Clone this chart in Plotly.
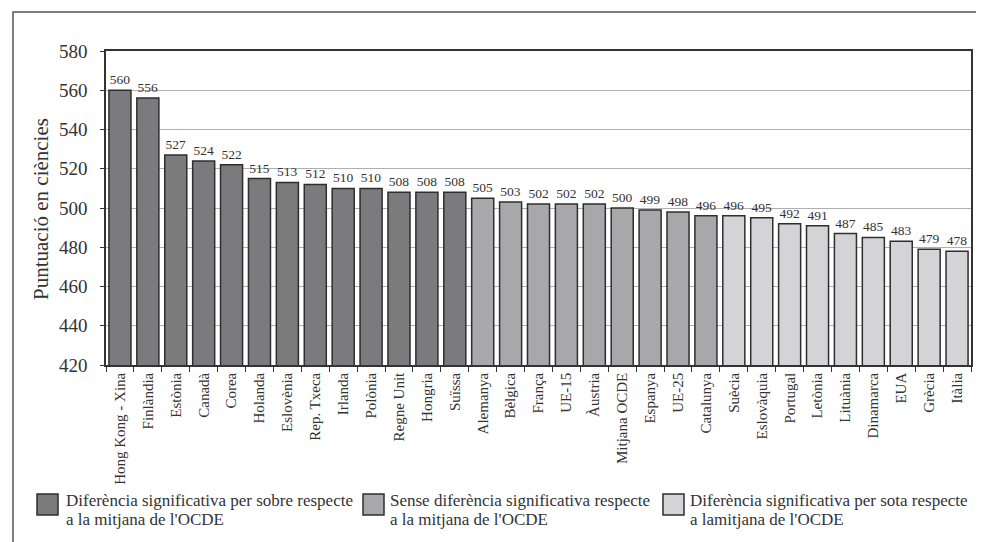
import plotly.graph_objects as go

countries_above = ["Hong Kong - Xina", "Finlàndia", "Estònia", "Canadà", "Corea", "Holanda",
                   "Eslovènia", "Rep. Txeca", "Irlanda", "Polònia", "Regne Unit", "Hongria", "Suïssa"]
scores_above = [560, 556, 527, 524, 522, 515, 513, 512, 510, 510, 508, 508, 508]

countries_same = ["Alemanya", "Bèlgica", "França", "UE-15", "Àustria", "Mitjana OCDE",
                  "Espanya", "UE-25", "Catalunya"]
scores_same = [505, 503, 502, 502, 502, 500, 499, 498, 496]

countries_below = ["Suècia", "Eslovàquia", "Portugal", "Letònia", "Lituània", "Dinamarca",
                   "EUA", "Grècia", "Itàlia"]
scores_below = [496, 495, 492, 491, 487, 485, 483, 479, 478]

legend_lines = [
    ["Diferència significativa per sobre respecte", "a la mitjana de l'OCDE"],
    ["Sense diferència significativa respecte", "a la mitjana de l'OCDE"],
    ["Diferència significativa per sota respecte", "a lamitjana de l'OCDE"],
]

FONT = "Liberation Serif"
TXT = "#333333"
colors = ["#7b7b7d", "#a8a8aa", "#d4d4d6"]

fig = go.Figure()
for xs, ys, lines, col in zip([countries_above, countries_same, countries_below],
                              [scores_above, scores_same, scores_below],
                              legend_lines, colors):
    fig.add_trace(go.Bar(
        x=xs, y=ys, name=" ".join(lines),
        marker=dict(color=col, line=dict(color="#2e2e2e", width=1.5)),
        text=[str(v) for v in ys], textposition="outside",
        textfont=dict(family=FONT, size=13.5, color=TXT),
        cliponaxis=False, showlegend=False,
    ))

all_cats = countries_above + countries_same + countries_below

L, R, T, B = 98, 21, 43, 185
W, H = 984, 542
pw, ph = W - L - R, H - T - B

def px_x(x):
    return (x - L) / pw

def px_y(y):
    return (H - B - y) / ph

fig.update_layout(
    width=W, height=H,
    margin=dict(l=L, r=R, t=T, b=B, autoexpand=False),
    paper_bgcolor="white", plot_bgcolor="white",
    barmode="overlay", bargap=0.21,
    font=dict(family=FONT, color=TXT),
    showlegend=False,
    xaxis=dict(
        categoryorder="array", categoryarray=all_cats, automargin=False,
        tickangle=-90, tickfont=dict(family=FONT, size=15, color=TXT),
        showline=True, linecolor="#333333", linewidth=1.5, mirror=True,
        ticks="outside", tickson="boundaries", ticklen=5, tickcolor="#333333",
        showgrid=False,
    ),
    yaxis=dict(
        range=[420, 580], dtick=20, automargin=False,
        tickfont=dict(family=FONT, size=19, color=TXT),
        ticklabelstandoff=9,
        showline=True, linecolor="#333333", linewidth=1.5, mirror=True,
        showgrid=True, gridcolor="#b0b0b0", gridwidth=1,
        ticks="outside", ticklen=4, tickcolor="#333333", zeroline=False,
    ),
)

# y-axis title
fig.add_annotation(text="Puntuació en ciències", xref="paper", yref="paper",
                   x=px_x(33), y=px_y(201), textangle=-90, showarrow=False,
                   xanchor="center", yanchor="middle",
                   font=dict(family=FONT, size=21, color=TXT))

# outer frame
fig.add_shape(type="rect", xref="paper", yref="paper",
              x0=px_x(5), x1=px_x(979), y0=px_y(537), y1=px_y(4),
              line=dict(color="#555555", width=1.5), layer="below")

# legend (manual)
sq_x = [29, 355, 655]
tx_x = [56, 380, 680]
for sx, tx, lines, col in zip(sq_x, tx_x, legend_lines, colors):
    fig.add_shape(type="rect", xref="paper", yref="paper",
                  x0=px_x(sx), x1=px_x(sx + 21), y0=px_y(507), y1=px_y(486),
                  fillcolor=col, line=dict(color="#2e2e2e", width=1.5))
    for ly, line in zip([492, 511], lines):
        fig.add_annotation(text=line, xref="paper", yref="paper",
                           x=px_x(tx), y=px_y(ly), showarrow=False,
                           xanchor="left", yanchor="middle",
                           font=dict(family=FONT, size=17, color=TXT))

fig.write_html("out.html")
